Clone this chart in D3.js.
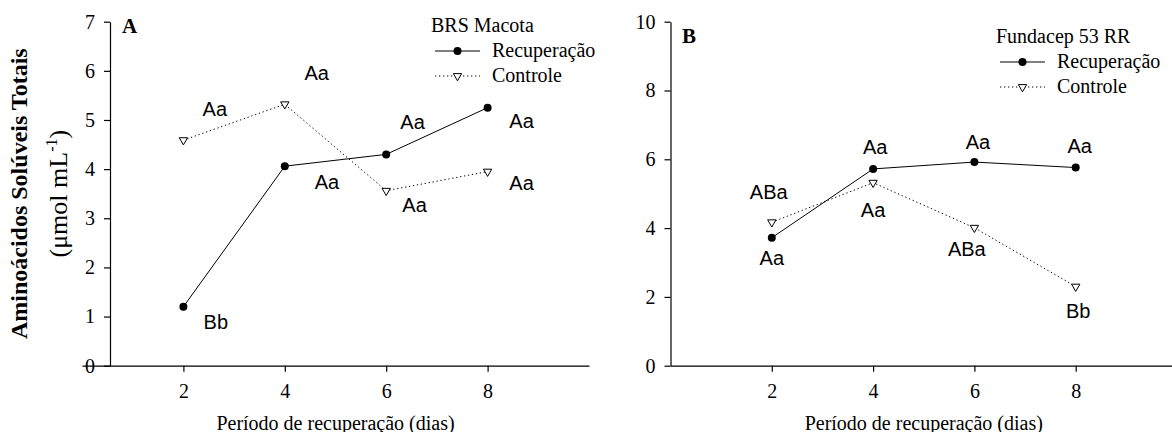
<!DOCTYPE html>
<html>
<head>
<meta charset="utf-8">
<script src="https://cdn.jsdelivr.net/npm/d3@7"></script>
<style>
  body { margin: 0; background: #fff; }
  svg text { fill: #000; }
</style>
</head>
<body>
<svg id="chart" width="1172" height="432"></svg>
<script>
const days = [2, 4, 6, 8];
const xTicks = [2, 4, 6, 8];

// painel A - BRS Macota
const macotaRecuperacao = [1.2, 4.06, 4.3, 5.25];
const macotaControle = [4.59, 5.32, 3.56, 3.95];
const macotaYTicks = [0, 1, 2, 3, 4, 5, 6, 7];
// letras de comparacao: [dia, valor, texto]
const macotaLetras = [
  [2.62, 5.22, "Aa"],
  [4.63, 5.96, "Aa"],
  [6.52, 4.96, "Aa"],
  [8.67, 4.98, "Aa"],
  [4.83, 3.74, "Aa"],
  [6.56, 3.27, "Aa"],
  [8.67, 3.72, "Aa"],
  [2.64, 0.89, "Bb"]
];

// painel B - Fundacep 53 RR
const fundacepRecuperacao = [3.72, 5.72, 5.92, 5.76];
const fundacepControle = [4.17, 5.32, 4.01, 2.3];
const fundacepYTicks = [0, 2, 4, 6, 8, 10];
const fundacepLetras = [
  [1.94, 5.04, "ABa"],
  [2.0, 3.13, "Aa"],
  [4.04, 6.36, "Aa"],
  [4.0, 4.54, "Aa"],
  [6.07, 6.51, "Aa"],
  [5.85, 3.39, "ABa"],
  [8.08, 6.39, "Aa"],
  [8.05, 1.59, "Bb"]
];

const seriesNames = ["Recuperação", "Controle"];
const serif = "'Liberation Serif', 'Times New Roman', serif";
const sans = "'Liberation Sans', Arial, sans-serif";

const panels = [
  {
    letter: "A", letterX: 122, letterY: 33,
    legendTitle: "BRS Macota", legendX: 431, legendY: 32,
    rec: macotaRecuperacao, ctrl: macotaControle, letras: macotaLetras,
    yMax: 7, yTicks: macotaYTicks,
    xRange: [82, 589], yAxisX: 110
  },
  {
    letter: "B", letterX: 682, letterY: 43,
    legendTitle: "Fundacep 53 RR", legendX: 996, legendY: 43,
    rec: fundacepRecuperacao, ctrl: fundacepControle, letras: fundacepLetras,
    yMax: 10, yTicks: fundacepYTicks,
    xRange: [670.5, 1177], yAxisX: 670.5
  }
];

const svg = d3.select("#chart");
const triangle = d3.symbol(d3.symbolTriangle, 30);

function drawMarker(sel, type) {
  if (type === 0) {
    sel.append("circle").attr("r", 4).attr("fill", "#000");
  } else {
    sel.append("path").attr("d", triangle)
      .attr("transform", "rotate(180)")
      .attr("fill", "#fff").attr("stroke", "#000").attr("stroke-width", 1);
  }
}

function drawPanel(p) {
  const sx = d3.scaleLinear().domain([0, 10]).range(p.xRange);
  const sy = d3.scaleLinear().domain([0, p.yMax]).range([365.7, 21.7]);
  const g = svg.append("g");

  const xAxis = g.append("g")
    .attr("transform", `translate(0,${sy(0)})`)
    .call(d3.axisBottom(sx).tickValues(xTicks).tickFormat(d3.format("d"))
      .tickSize(6).tickSizeOuter(0).tickPadding(12));
  const yAxis = g.append("g")
    .attr("transform", `translate(${p.yAxisX},0)`)
    .call(d3.axisLeft(sy).tickValues(p.yTicks).tickFormat(d3.format("d"))
      .tickSize(6).tickSizeOuter(0).tickPadding(9));

  [xAxis, yAxis].forEach(a => {
    a.selectAll("path, line").attr("stroke", "#000").attr("stroke-width", 1.2);
    a.selectAll("text").attr("font-family", serif).attr("font-size", 20).attr("fill", "#000");
  });

  const line = d3.line().x(d => sx(d[0])).y(d => sy(d[1]));
  const series = [p.rec, p.ctrl];
  series.forEach((vals, i) => {
    const pts = days.map((d, j) => [d, vals[j]]);
    g.append("path")
      .attr("d", line(pts))
      .attr("fill", "none")
      .attr("stroke", "#000")
      .attr("stroke-width", 1)
      .attr("stroke-dasharray", i === 1 ? "1.3,2.7" : null);
    g.append("g").selectAll("g")
      .data(pts)
      .join("g")
      .attr("transform", d => `translate(${sx(d[0])},${sy(d[1])})`)
      .each(function () { drawMarker(d3.select(this), i); });
  });

  g.append("g").selectAll("text")
    .data(p.letras)
    .join("text")
    .attr("x", d => sx(d[0]))
    .attr("y", d => sy(d[1]))
    .attr("text-anchor", "middle")
    .attr("dominant-baseline", "central")
    .attr("font-family", sans)
    .attr("font-size", 20)
    .text(d => d[2]);

  g.append("text")
    .attr("x", p.letterX).attr("y", p.letterY)
    .attr("font-family", serif).attr("font-weight", "bold").attr("font-size", 21)
    .text(p.letter);

  // legenda
  const lg = g.append("g").attr("transform", `translate(${p.legendX},${p.legendY})`);
  lg.append("text")
    .attr("font-family", serif).attr("font-size", 20)
    .text(p.legendTitle);
  seriesNames.forEach((name, i) => {
    const row = lg.append("g").attr("transform", `translate(4,${19 + i * 25})`);
    row.append("line")
      .attr("x1", 0).attr("x2", 45)
      .attr("stroke", "#000").attr("stroke-width", 1)
      .attr("stroke-dasharray", i === 1 ? "1.3,2.7" : null);
    const m = row.append("g").attr("transform", "translate(22.5,0)");
    drawMarker(m, i);
    row.append("text")
      .attr("x", 57).attr("dy", "0.32em")
      .attr("font-family", serif).attr("font-size", 20)
      .text(name);
  });

  g.append("text")
    .attr("x", (p.xRange[0] + p.xRange[1]) / 2).attr("y", 430)
    .attr("text-anchor", "middle")
    .attr("font-family", serif).attr("font-size", 20)
    .text("Período de recuperação (dias)");
}

panels.forEach(drawPanel);

// titulo do eixo y
svg.append("text")
  .attr("transform", "translate(27,193.7) rotate(-90)")
  .attr("text-anchor", "middle")
  .attr("font-family", serif).attr("font-weight", "bold").attr("font-size", 24)
  .text("Aminoácidos Solúveis Totais");

const unit = svg.append("text")
  .attr("transform", "translate(67,193.7) rotate(-90)")
  .attr("text-anchor", "middle")
  .attr("font-family", serif).attr("font-size", 26);
unit.append("tspan").text("(μmol mL");
unit.append("tspan").attr("dy", -10).attr("font-size", 16).text("-1");
unit.append("tspan").attr("dy", 10).text(")");
</script>
</body>
</html>
